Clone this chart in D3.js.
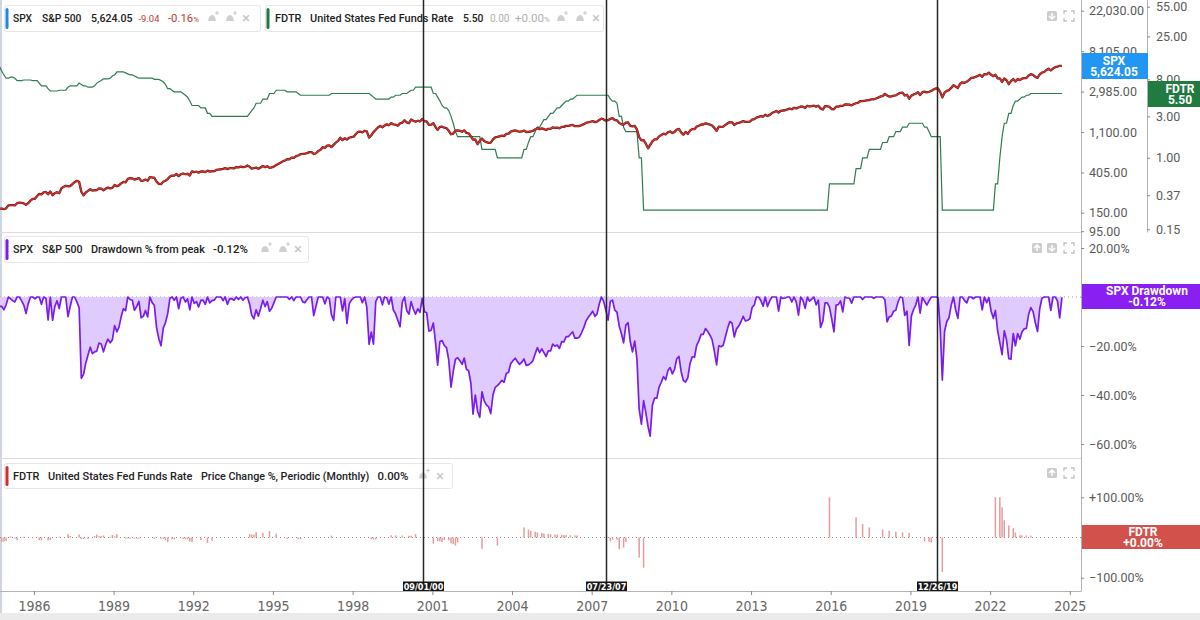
<!DOCTYPE html>
<html><head><meta charset="utf-8">
<script src="https://cdn.jsdelivr.net/npm/d3@7"></script>
<style>
html,body{margin:0;padding:0;background:#fff;}
svg{display:block;font-family:Roboto,"Noto Sans",sans-serif;}
.narrow{font-family:"Liberation Sans Narrow","DejaVu Sans Condensed",Roboto,sans-serif;font-stretch:condensed;}
</style></head><body>
<svg id="c" width="1200" height="620"></svg>
<script>
// ---------------- DATA (monthly, starting Sep 1984) ----------------
const firstMonth = "1984-09";
const spxClose = [
166.1,166.1,163.6,167.2,
179.6,181.2,180.7,179.8,189.6,191.9,190.9,188.6,182.1,189.8,202.2,211.3,
211.8,226.9,238.9,235.5,247.4,250.8,236.1,252.9,231.3,243.0,249.2,242.2,
274.1,284.2,291.7,288.4,290.1,304.0,318.7,329.8,321.8,251.8,230.3,247.1,
257.1,267.8,258.9,261.3,262.2,273.5,272.0,261.5,271.9,278.9,273.7,277.7,
297.5,288.9,294.9,309.6,320.5,318.0,346.1,351.5,349.2,340.4,346.0,353.4,
329.1,331.9,339.9,330.8,361.2,358.0,356.2,322.6,306.1,304.0,322.2,330.2,
343.9,367.1,375.2,375.3,389.8,371.2,387.8,395.4,387.9,392.5,375.2,417.1,
408.8,412.7,403.7,414.9,415.4,408.1,424.2,414.0,417.8,418.7,431.4,435.7,
438.8,443.4,451.7,440.2,450.2,451.0,448.1,463.6,458.9,467.8,461.8,466.5,
481.6,467.1,445.8,450.9,456.5,444.3,458.3,475.5,462.7,472.4,453.7,459.3,
470.4,487.4,500.7,514.7,533.4,544.8,562.1,561.9,584.4,581.5,605.4,615.9,
636.0,640.4,645.5,654.2,669.1,670.6,640.0,652.0,687.3,705.3,757.0,740.7,
786.2,790.8,757.1,801.3,848.3,885.1,954.3,899.5,947.3,914.6,955.4,970.4,
980.3,1049.3,1101.8,1111.8,1090.8,1133.8,1120.7,957.3,1017.0,1098.7,1163.6,1229.2,
1279.6,1238.3,1286.4,1335.2,1301.8,1372.7,1328.7,1320.4,1282.7,1362.9,1389.0,1469.3,
1394.5,1366.4,1498.6,1452.4,1420.6,1454.6,1430.8,1517.7,1436.5,1429.4,1315.2,1320.3,
1366.0,1239.9,1160.3,1249.5,1255.8,1224.4,1211.2,1133.6,1040.9,1059.8,1139.5,1148.1,
1130.2,1106.7,1147.4,1076.9,1067.1,989.8,911.6,916.1,815.3,885.8,936.3,879.8,
855.7,841.2,848.2,916.9,963.6,974.5,990.3,1008.0,996.0,1050.7,1058.2,1111.9,
1131.1,1144.9,1126.2,1107.3,1120.7,1140.8,1101.7,1104.2,1114.6,1130.2,1173.8,1211.9,
1181.3,1203.6,1180.6,1156.9,1191.5,1191.3,1234.2,1220.3,1228.8,1207.0,1249.5,1248.3,
1280.1,1280.7,1294.9,1310.6,1270.1,1270.2,1276.7,1303.8,1335.9,1377.9,1400.6,1418.3,
1438.2,1406.8,1420.9,1482.4,1530.6,1503.4,1455.3,1474.0,1526.8,1549.4,1481.1,1468.4,
1378.6,1330.6,1322.7,1385.6,1400.4,1280.0,1267.4,1282.8,1166.4,968.8,896.2,903.3,
825.9,735.1,797.9,872.8,919.1,919.3,987.5,1020.6,1057.1,1036.2,1095.6,1115.1,
1073.9,1104.5,1169.4,1186.7,1089.4,1030.7,1101.6,1049.3,1141.2,1183.3,1180.6,1257.6,
1286.1,1327.2,1325.8,1363.6,1345.2,1320.6,1292.3,1218.9,1131.4,1253.3,1247.0,1257.6,
1312.4,1365.7,1408.5,1397.9,1310.3,1362.2,1379.3,1406.6,1440.7,1412.2,1416.2,1426.2,
1498.1,1514.7,1569.2,1597.6,1630.7,1606.3,1685.7,1633.0,1681.6,1756.5,1805.8,1848.4,
1782.6,1859.5,1872.3,1884.0,1923.6,1960.2,1930.7,2003.4,1972.3,2018.1,2067.6,2058.9,
1995.0,2104.5,2067.9,2085.5,2107.4,2063.1,2103.8,1972.2,1920.0,2079.4,2080.4,2043.9,
1940.2,1932.2,2059.7,2065.3,2097.0,2098.9,2173.6,2171.0,2168.3,2126.2,2199.0,2238.8,
2278.9,2363.6,2362.7,2384.2,2411.8,2423.4,2470.3,2471.7,2519.4,2575.3,2647.6,2673.6,
2823.8,2713.8,2640.9,2648.1,2705.3,2718.4,2816.3,2901.5,2914.0,2711.7,2760.2,2506.9,
2704.1,2784.5,2834.4,2945.8,2752.1,2941.8,2980.4,2926.5,2976.7,3037.6,3141.0,3230.8,
3225.5,2954.2,2584.6,2912.4,3044.3,3100.3,3271.1,3500.3,3363.0,3270.0,3621.6,3756.1,
3714.2,3811.2,3972.9,4181.2,4204.1,4297.5,4395.3,4522.7,4307.5,4605.4,4567.0,4766.2,
4515.6,4373.9,4530.4,4131.9,4132.2,3785.4,4130.3,3955.0,3585.6,3872.0,4080.1,3839.5,
4076.6,3970.2,4109.3,4169.5,4179.8,4450.4,4589.0,4507.7,4288.1,4193.8,4567.8,4769.8,
4845.7,5096.3,5254.4,5035.7,5277.5,5460.5,5522.3,5648.4,5624.05
];
const spxDrawdownPct = [
-3.8,-3.8,-5.2,-3.2,
0,-0.8,-1.5,-2.0,0,0,-1.5,-3.3,-6.7,-2.7,0,0,
-0.8,0,0,-3.0,0,-0.5,-9.4,0,-9.5,-4.0,-1.5,-4.7,
0,0,0,-8.0,-3.9,0,0,-2.0,-4.4,-33.2,-31.6,-27.0,
-23.7,-20.5,-23.1,-22.4,-22.1,-18.8,-19.2,-22.4,-19.3,-17.2,-18.7,-17.5,
-11.7,-14.2,-12.4,-8.1,-4.8,-5.6,0,-1.0,-1.3,-5.4,-3.8,-1.8,
-8.5,-7.8,-5.5,-8.1,0,-2.3,-3.4,-12.6,-17.0,-19.9,-12.7,-10.5,
-6.8,-0.5,0,-1.3,0,-4.8,-0.5,0,-2.0,-0.8,-5.2,0,
-2.6,-1.9,-4.1,-1.4,-1.3,-3.0,0,-2.4,-1.5,-1.3,0,0,
0,-1.5,0,-3.0,-0.8,-0.7,-1.3,0,-1.0,0,-1.3,-0.3,
0,-3.0,-7.4,-8.9,-5.2,-7.8,-4.8,-1.3,-3.9,-1.9,-5.8,-4.6,
-2.3,0,0,0,0,0,0,-1.0,0,-1.5,0,0,
0,-2.0,-2.3,-1.0,0,0,-7.6,-3.8,0,0,0,-2.8,
0,-0.8,-7.2,-9.6,0,0,0,-5.7,-0.7,-10.8,-2.8,-1.3,
-0.3,0,0,0,-2.3,0,-4.2,-19.3,-14.3,-19.2,-1.9,0,
0,-3.2,0,-0.3,-2.9,0,-5.3,-6.9,-9.6,-12.1,-2.1,0,
-5.6,-7.0,-1.9,-4.9,-7.0,-4.8,-6.3,-0.6,-6.0,-6.4,-13.9,-13.6,
-10.6,-18.8,-27.8,-18.2,-17.8,-19.8,-20.7,-25.8,-36.8,-30.6,-25.4,-24.8,
-26.0,-27.5,-24.9,-29.5,-30.1,-35.2,-47.8,-40.0,-46.6,-49.1,-38.7,-42.4,
-44.0,-44.9,-47.6,-40.0,-36.9,-36.2,-35.2,-34.0,-34.8,-31.2,-30.7,-27.2,
-26.0,-25.0,-26.3,-27.5,-26.6,-25.3,-27.9,-27.7,-27.0,-26.0,-23.2,-20.7,
-22.7,-21.2,-22.7,-24.3,-22.0,-22.0,-19.2,-20.1,-19.6,-21.0,-18.2,-18.3,
-16.2,-16.2,-15.2,-14.2,-16.8,-16.8,-16.4,-14.6,-12.5,-9.8,-8.3,-7.1,
-5.8,-7.9,-7.0,-2.9,0,-1.8,-5.4,-9.4,-1.7,-1.3,-5.4,-6.2,
-11.9,-15.0,-18.7,-11.5,-10.5,-18.2,-22.4,-18.0,-25.5,-45.8,-51.9,-42.3,
-47.2,-53.0,-56.8,-44.2,-41.3,-41.3,-36.9,-34.8,-32.5,-33.8,-30.0,-28.8,
-31.4,-29.4,-25.3,-24.2,-30.4,-34.1,-34.7,-33.0,-27.1,-24.4,-24.6,-19.7,
-17.8,-15.2,-15.3,-12.9,-14.0,-15.6,-17.4,-22.1,-27.7,-19.9,-20.3,-19.7,
-16.1,-12.7,-10.0,-10.7,-16.3,-13.0,-11.9,-10.1,-7.9,-9.8,-9.5,-8.9,
-4.3,-3.2,0,0,-1.4,-3.8,0,-3.9,-1.6,0,0,0,
-5.8,0,-0.6,-0.4,0,0,-2.0,0,-2.1,-7.4,0,-1.3,
-4.6,0,-1.7,-0.9,0,-3.2,-1.3,-12.4,-9.9,-2.4,-2.4,-4.1,
-8.9,-14.2,-3.3,-3.1,-1.6,-6.1,0,-0.4,-0.5,-2.5,0,0,
0,0,-1.0,0,0,0,0,-0.5,0,0,0,0,
-1.1,-10.2,-8.1,-7.8,-5.8,-5.4,-2.0,0,-0.3,-7.5,-5.8,-19.8,
-7.7,-5.0,-3.3,0,-6.6,-0.2,-1.7,-3.3,-1.6,0,0,0,
-0.2,-12.8,-33.9,-14.0,-10.1,-8.4,-3.4,0,-5.3,-8.7,0,0,
-1.5,-2.4,0,0,-0.7,0,0,0,-5.2,0,-2.3,-0.3,
-5.8,-8.7,-5.5,-13.8,-18.6,-23.5,-13.8,-17.5,-25.2,-25.4,-14.9,-19.9,
-14.9,-17.2,-14.3,-13.0,-12.8,-7.1,-4.3,-6.0,-10.5,-14.1,-4.7,-0.5,
0,0,0,-5.5,0,0,-1.6,-8.5,-0.12
];
const fedFundsRate = [
11.25,10.0,9.0,8.25,
8.25,8.5,8.5,8.25,7.75,7.75,7.75,7.875,7.875,7.875,7.875,7.75,
7.75,7.75,7.25,6.75,6.75,6.75,6.25,5.875,5.875,5.875,5.875,6.0,
6.0,6.0,6.0,6.5,6.75,6.75,6.75,6.75,7.25,7.0,6.75,6.75,
6.5,6.5,6.5,6.75,7.25,7.5,7.75,8.125,8.125,8.125,8.25,8.75,
9.0,9.75,9.75,9.75,9.75,9.5,9.25,9.0,9.0,8.75,8.5,8.25,
8.25,8.25,8.25,8.25,8.25,8.25,8.0,8.0,8.0,7.75,7.5,7.0,
6.25,6.25,6.0,5.75,5.75,5.75,5.75,5.5,5.25,5.0,4.5,4.0,
4.0,4.0,4.0,3.75,3.75,3.75,3.25,3.25,3.0,3.0,3.0,3.0,
3.0,3.0,3.0,3.0,3.0,3.0,3.0,3.0,3.0,3.0,3.0,3.0,
3.0,3.25,3.5,3.75,4.25,4.25,4.25,4.75,4.75,4.75,5.5,5.5,
5.5,6.0,6.0,6.0,6.0,6.0,5.75,5.75,5.75,5.75,5.75,5.5,
5.25,5.25,5.25,5.25,5.25,5.25,5.25,5.25,5.25,5.25,5.25,5.25,
5.25,5.25,5.5,5.5,5.5,5.5,5.5,5.5,5.5,5.5,5.5,5.5,
5.5,5.5,5.5,5.5,5.5,5.5,5.5,5.5,5.25,5.0,4.75,4.75,
4.75,4.75,4.75,4.75,4.75,5.0,5.0,5.25,5.25,5.25,5.5,5.5,
5.5,5.75,6.0,6.0,6.5,6.5,6.5,6.5,6.5,6.5,6.5,6.5,
5.5,5.5,5.0,4.5,4.0,3.75,3.75,3.5,3.0,2.5,2.0,1.75,
1.75,1.75,1.75,1.75,1.75,1.75,1.75,1.75,1.75,1.75,1.25,1.25,
1.25,1.25,1.25,1.25,1.25,1.0,1.0,1.0,1.0,1.0,1.0,1.0,
1.0,1.0,1.0,1.0,1.0,1.25,1.25,1.5,1.75,1.75,2.0,2.25,
2.25,2.5,2.75,2.75,3.0,3.25,3.25,3.5,3.75,3.75,4.0,4.25,
4.5,4.5,4.75,4.75,5.0,5.25,5.25,5.25,5.25,5.25,5.25,5.25,
5.25,5.25,5.25,5.25,5.25,5.25,5.25,5.25,4.75,4.5,4.5,4.25,
3.0,3.0,2.25,2.0,2.0,2.0,2.0,2.0,2.0,1.0,1.0,0.25,
0.25,0.25,0.25,0.25,0.25,0.25,0.25,0.25,0.25,0.25,0.25,0.25,
0.25,0.25,0.25,0.25,0.25,0.25,0.25,0.25,0.25,0.25,0.25,0.25,
0.25,0.25,0.25,0.25,0.25,0.25,0.25,0.25,0.25,0.25,0.25,0.25,
0.25,0.25,0.25,0.25,0.25,0.25,0.25,0.25,0.25,0.25,0.25,0.25,
0.25,0.25,0.25,0.25,0.25,0.25,0.25,0.25,0.25,0.25,0.25,0.25,
0.25,0.25,0.25,0.25,0.25,0.25,0.25,0.25,0.25,0.25,0.25,0.25,
0.25,0.25,0.25,0.25,0.25,0.25,0.25,0.25,0.25,0.25,0.25,0.5,
0.5,0.5,0.5,0.5,0.5,0.5,0.5,0.5,0.5,0.5,0.5,0.75,
0.75,0.75,1.0,1.0,1.0,1.25,1.25,1.25,1.25,1.25,1.25,1.5,
1.5,1.5,1.75,1.75,1.75,2.0,2.0,2.0,2.25,2.25,2.25,2.5,
2.5,2.5,2.5,2.5,2.5,2.5,2.25,2.25,2.0,1.75,1.75,1.75,
1.75,1.75,0.25,0.25,0.25,0.25,0.25,0.25,0.25,0.25,0.25,0.25,
0.25,0.25,0.25,0.25,0.25,0.25,0.25,0.25,0.25,0.25,0.25,0.25,
0.25,0.25,0.5,0.5,1.0,1.75,2.5,2.5,3.25,3.25,4.0,4.5,
4.5,4.75,5.0,5.0,5.25,5.25,5.5,5.5,5.5,5.5,5.5,5.5,
5.5,5.5,5.5,5.5,5.5,5.5,5.5,5.5,5.5
];
// FDTR monthly price change % (only months with a change)
const fedChangeMonths = [
"1984-10","1984-11","1984-12","1985-02","1985-04","1985-05","1985-08","1985-12",
"1986-03","1986-04","1986-07","1986-08","1986-12","1987-04","1987-05","1987-09","1987-10","1987-11",
"1988-01","1988-04","1988-05","1988-06","1988-07","1988-08","1988-11","1988-12",
"1989-01","1989-02","1989-06","1989-07","1989-08","1989-10","1989-11","1989-12",
"1990-07","1990-10","1990-11","1990-12","1991-01","1991-03","1991-04","1991-08","1991-09","1991-10","1991-11","1991-12",
"1992-04","1992-07","1992-09","1994-02","1994-03","1994-04","1994-05","1994-08","1994-11","1995-02","1995-07","1995-12",
"1996-01","1997-03","1998-09","1998-10","1998-11","1999-06","1999-08","1999-11","2000-02","2000-03","2000-05",
"2001-01","2001-03","2001-04","2001-05","2001-06","2001-08","2001-09","2001-10","2001-11","2001-12","2002-11","2003-06",
"2004-06","2004-08","2004-09","2004-11","2004-12","2005-02","2005-03","2005-05","2005-06","2005-08","2005-09","2005-11","2005-12",
"2006-01","2006-03","2006-05","2006-06","2007-09","2007-10","2007-12","2008-01","2008-03","2008-04","2008-10","2008-12",
"2015-12","2016-12","2017-03","2017-06","2017-12","2018-03","2018-06","2018-09","2018-12","2019-07","2019-09","2019-10",
"2020-03","2022-03","2022-05","2022-06","2022-07","2022-09","2022-11","2022-12","2023-02","2023-03","2023-05","2023-07"
];
const fedChangePct = [
-11.1,-10.0,-8.3,3.0,-2.9,-6.1,1.6,-1.6,
-6.5,-6.9,-7.4,-6.0,2.1,8.3,3.8,7.4,-3.4,-3.6,
-3.7,3.8,7.4,3.4,3.3,4.8,1.5,6.1,
2.9,8.3,-2.6,-2.6,-2.7,-2.8,-2.9,-2.9,
-3.0,-3.1,-3.2,-6.7,-10.7,-4.0,-4.2,-4.3,-4.5,-4.8,-10.0,-11.1,
-6.25,-13.3,-7.7,8.3,7.7,7.1,13.3,11.8,15.8,9.1,-4.2,-4.3,
-4.5,4.8,-4.5,-4.8,-5.0,5.3,5.0,4.8,4.5,4.3,8.3,
-15.4,-9.1,-10.0,-11.1,-6.25,-6.7,-14.3,-16.7,-20.0,-12.5,-28.6,-20.0,
25.0,20.0,16.7,14.3,12.5,11.1,10.0,9.1,8.3,7.7,7.1,6.7,6.25,
5.9,5.6,5.3,5.0,-9.5,-5.3,-5.6,-29.4,-25.0,-11.1,-50.0,-75.0,
100,50,33.3,25,20,16.7,14.3,12.5,11.1,-10,-11.1,-12.5,
-85.7,100,100,75,42.9,30,23.1,12.5,5.6,5.3,5.0,4.8
];
const yearTicks = [1986,1989,1992,1995,1998,2001,2004,2007,2010,2013,2016,2019,2022,2025];
const spxTicks = [22030,8105,2985,1100,405,150,95];
const fedTicks = [55,25,8,3,1,0.37,0.15];
const drawdownTicks = [20,0,-20,-40,-60];
const changeTicks = [100,0,-100];
const markerDates = ["2000-09-01","2007-07-23","2019-12-26"];
const markerLabels = ["09/01/00","07/23/07","12/26/19"];

// ---------------- CHART ----------------
const svg = d3.select("#c");
const PR = 1081; // plot right edge
const monthDate = i => new Date(1984, 8 + i, 15);
const x = d3.scaleTime().domain([new Date(1986,0,1), new Date(2025,0,1)]).range([33.9, 1069.8]);
const ySpx = d3.scaleLog().domain([95, 22030]).range([231.2, 10.7]);
const yFed = d3.scaleLog().domain([0.15, 55]).range([229.3, 6.7]);
const yDd = d3.scaleLinear().domain([-60, 20]).range([444, 248]);
const yChg = d3.scaleLinear().domain([-100, 100]).range([577.7, 497.3]);
const parseM = d3.timeParse("%Y-%m");

const spxData = spxClose.map((v,i)=>({d:monthDate(i), v}));
const ddData = spxDrawdownPct.map((v,i)=>({d:monthDate(i), v}));
const fedData = fedFundsRate.map((v,i)=>({d:monthDate(i), v}));
const chgData = fedChangeMonths.map((m,i)=>{const t=parseM(m); return {d:new Date(t.getFullYear(), t.getMonth(), 15), v:fedChangePct[i]};});

svg.append("defs").append("clipPath").attr("id","plotclip")
  .append("rect").attr("x",0).attr("y",0).attr("width",PR).attr("height",591);

// background pieces
svg.append("rect").attr("x",0).attr("y",613).attr("width",1200).attr("height",7).attr("fill","#ebebeb");
svg.append("line").attr("x1",1).attr("x2",1).attr("y1",0).attr("y2",613).attr("stroke","#cfd5e2").attr("stroke-width",2);
[232.5,458.5].forEach(y=>svg.append("line").attr("x1",0).attr("x2",PR).attr("y1",y).attr("y2",y).attr("stroke","#dcdcdc"));

const plot = svg.append("g").attr("clip-path","url(#plotclip)");

// Top panel
plot.append("path").datum(fedData)
  .attr("d", d3.line().x(d=>x(d.d)).y(d=>yFed(d.v)))
  .attr("fill","none").attr("stroke","#2f7d52").attr("stroke-width",1.2);
const spxLine = d3.line().x(d=>x(d.d)).y(d=>ySpx(d.v));
plot.append("path").datum(spxData).attr("d",spxLine)
  .attr("fill","none").attr("stroke","#5e1515").attr("stroke-width",2.3).attr("stroke-linejoin","round");
plot.append("path").datum(spxData).attr("d",spxLine)
  .attr("fill","none").attr("stroke","#d3302a").attr("stroke-width",1.4).attr("stroke-linejoin","round");

// Middle panel
plot.append("line").attr("x1",0).attr("x2",PR).attr("y1",yDd(0)).attr("y2",yDd(0))
  .attr("stroke","#9a9a9a").attr("stroke-dasharray","1,3");
plot.append("path").datum(ddData)
  .attr("d", d3.area().x(d=>x(d.d)).y0(yDd(0)).y1(d=>yDd(d.v)))
  .attr("fill","#dfcbfd");
plot.append("path").datum(ddData)
  .attr("d", d3.line().x(d=>x(d.d)).y(d=>yDd(d.v)))
  .attr("fill","none").attr("stroke","#7a1cec").attr("stroke-width",1.7).attr("stroke-linejoin","round");

// Bottom panel
plot.append("line").attr("x1",0).attr("x2",PR).attr("y1",yChg(0)).attr("y2",yChg(0))
  .attr("stroke","#8a8a8a").attr("stroke-dasharray","1,3");
plot.selectAll("rect.bar").data(chgData).enter().append("rect").attr("class","bar")
  .attr("x",d=>x(d.d)-0.75).attr("width",1.5)
  .attr("y",d=>yChg(Math.max(0,d.v))).attr("height",d=>Math.max(0.8,Math.abs(yChg(d.v)-yChg(0))))
  .attr("fill","#e49c9c");

// Legends
function bellIcon(g, cx, cy){
  g.append("path").attr("d",`M${cx-4},${cy+3} L${cx-3},${cy-1} Q${cx},${cy-5} ${cx+3},${cy-1} L${cx+4},${cy+3} Z`).attr("fill","#cfcfcf");
  g.append("path").attr("d",`M${cx+3},${cy-5} h4 M${cx+5},${cy-7} v4`).attr("stroke","#cfcfcf").attr("stroke-width",1.2);
}
// item: [x, text, width, fill, weight, suffix]
function legend(x0,y0,w,h,color,items,icons,closeX){
  const g = svg.append("g");
  g.append("rect").attr("x",x0+0.5).attr("y",y0+0.5).attr("width",w).attr("height",h).attr("rx",2)
    .attr("fill","#fff").attr("stroke","#e6e6e6");
  g.append("rect").attr("x",x0+1.5).attr("y",y0+3).attr("width",3).attr("height",h-5).attr("rx",1.5).attr("fill",color);
  const by = y0 + h/2 + 4;
  items.forEach(it=>{
    const base = 13;
    const t = g.append("text").attr("x",it[0]).attr("y",by).attr("font-size",base)
      .attr("fill",it[3]||"#222").attr("font-weight",it[4]||500).text(it[1]);
    let sfx = null;
    if(it[5]) sfx = t.append("tspan").attr("font-size",base*0.7).text(it[5]);
    const nat = t.node().getComputedTextLength();
    const fs = Math.min(base, base*it[2]/nat);
    t.attr("font-size",fs);
    if(sfx) sfx.attr("font-size",fs*0.7);
  });
  icons.forEach(ix=>bellIcon(g, ix, y0+h/2));
  g.append("text").attr("x",closeX).attr("y",by+1).attr("font-size",15).attr("fill","#c4c4c4")
    .attr("text-anchor","middle").text("×");
}
legend(4,5,256,26,"#1e88e5",[[13,"SPX",19],[42,"S&P 500",39.5],[91,"5,624.05",41.5],[138.5,"-9.04",21,"#c0392b",400],[168,"-0.16",31,"#c0392b",400,"%"]],[212,230],246);
legend(265,5,338,26,"#1f7a3d",[[275,"FDTR",26.5],[310,"United States Fed Funds Rate",143.5],[463,"5.50",20.5],[490,"0.00",19.5,"#b0b0b0",400],[515,"+0.00",35,"#b0b0b0",400,"%"]],[561,580],596);
legend(4,236,304,26,"#7a1cec",[[13,"SPX",20],[42,"S&P 500",40.5],[91,"Drawdown % from peak",114],[213,"-0.12%",35]],[265,283],298);
legend(4,463,448,25,"#d32f2f",[[13,"FDTR",26.5],[48,"United States Fed Funds Rate",144.5],[201,"Price Change %, Periodic (Monthly)",168.5],[377.5,"0.00%",31]],[423],440);

// Right axes
function styleAxis(g){
  g.select(".domain").remove();
  g.selectAll(".tick line").attr("stroke","#888");
  g.selectAll(".tick text").attr("fill","#5a5a5a").attr("font-size",12.5).attr("font-family","Roboto, sans-serif");
}
svg.append("line").attr("x1",PR+0.5).attr("x2",PR+0.5).attr("y1",0).attr("y2",591.5).attr("stroke","#b4b4b4");
svg.append("line").attr("x1",1147.5).attr("x2",1147.5).attr("y1",0).attr("y2",232.5).attr("stroke","#b4b4b4");
svg.append("g").attr("transform",`translate(${PR},0)`)
  .call(d3.axisRight(ySpx).tickValues(spxTicks).tickFormat(d3.format(",.2f")).tickSize(3).tickPadding(5)).call(styleAxis);
svg.append("g").attr("transform","translate(1147,0)")
  .call(d3.axisRight(yFed).tickValues(fedTicks).tickFormat(d3.format(".2f")).tickSize(3).tickPadding(6)).call(styleAxis);
svg.append("g").attr("transform",`translate(${PR},0)`)
  .call(d3.axisRight(yDd).tickValues(drawdownTicks).tickFormat(d=>d3.format(".2f")(d)+"%").tickSize(3).tickPadding(5)).call(styleAxis);
svg.append("g").attr("transform",`translate(${PR},0)`)
  .call(d3.axisRight(yChg).tickValues(changeTicks).tickFormat(d=>d3.format("+.2f")(d)+"%").tickSize(3).tickPadding(5)).call(styleAxis);

// value boxes
function valueBox(x0,y0,w,h,color,l1,l2,cx){
  svg.append("rect").attr("x",x0).attr("y",y0).attr("width",w).attr("height",h).attr("fill",color);
  svg.append("text").attr("x",cx).attr("y",y0+h/2-1.5).attr("text-anchor","middle").attr("fill","#fff")
    .attr("font-size",12).attr("font-weight",700).text(l1);
  svg.append("text").attr("x",cx).attr("y",y0+h/2+9.5).attr("text-anchor","middle").attr("fill","#fff")
    .attr("font-size",12).attr("font-weight",700).text(l2);
}
valueBox(PR+1,53,66,26,"#2196f3","SPX","5,624.05",1114);
valueBox(1148,81,52,26,"#217a3f","FDTR","5.50",1180);
valueBox(PR+1,284,119,25,"#8a1ff2","SPX Drawdown","-0.12%",1147);
valueBox(PR+1,525,119,24,"#d2514b","FDTR","+0.00%",1143);

// bottom time axis
svg.append("line").attr("x1",0).attr("x2",PR).attr("y1",591.5).attr("y2",591.5).attr("stroke","#b4b4b4");
const xa = svg.append("g").attr("transform","translate(0,591)")
  .call(d3.axisBottom(x).tickValues(yearTicks.map(y=>new Date(y,0,1))).tickFormat(d3.timeFormat("%Y")).tickSize(4).tickPadding(6));
xa.select(".domain").remove();
xa.selectAll(".tick line").attr("stroke","#888");
xa.selectAll(".tick text").attr("class","narrow").attr("fill","#666").attr("font-size",14);

// vertical marker lines
const pd = d3.timeParse("%Y-%m-%d");
markerDates.forEach((m,i)=>{
  const xx = Math.round(x(pd(m)))+0.5;
  svg.append("line").attr("x1",xx).attr("x2",xx).attr("y1",0).attr("y2",582).attr("stroke","#262626").attr("stroke-width",1.5);
  svg.append("rect").attr("x",xx-20.5).attr("y",581.5).attr("width",41).attr("height",9.5).attr("fill","#161616");
  svg.append("text").attr("class","narrow").attr("x",xx).attr("y",589.5).attr("text-anchor","middle")
    .attr("fill","#fff").attr("font-size",9).attr("font-weight",700).text(markerLabels[i]);
});

// panel icons
function sqIcon(x0,y0,dir){
  svg.append("rect").attr("x",x0).attr("y",y0).attr("width",10).attr("height",10).attr("rx",1.5).attr("fill","#cdcdcd");
  const cx=x0+5;
  const p = dir==="down" ? `M${cx-3},${y0+5} L${cx},${y0+8} L${cx+3},${y0+5} M${cx},${y0+2} V${y0+8}`
                         : `M${cx-3},${y0+5} L${cx},${y0+2} L${cx+3},${y0+5} M${cx},${y0+2} V${y0+8}`;
  svg.append("path").attr("d",p).attr("stroke","#fff").attr("stroke-width",1.5).attr("fill","none");
}
function frameIcon(x0,y0){
  const s=10,c=3;
  svg.append("path").attr("d",
    `M${x0},${y0+c} V${y0} H${x0+c} M${x0+s-c},${y0} H${x0+s} V${y0+c} M${x0+s},${y0+s-c} V${y0+s} H${x0+s-c} M${x0+c},${y0+s} H${x0} V${y0+s-c}`)
    .attr("stroke","#c2c2c2").attr("stroke-width",1.3).attr("fill","none");
}
sqIcon(1047,11,"down"); frameIcon(1064,11);
sqIcon(1032,243,"up"); sqIcon(1047,243,"down"); frameIcon(1064,243);
sqIcon(1047,468,"up"); frameIcon(1064,468);
</script></body></html>
